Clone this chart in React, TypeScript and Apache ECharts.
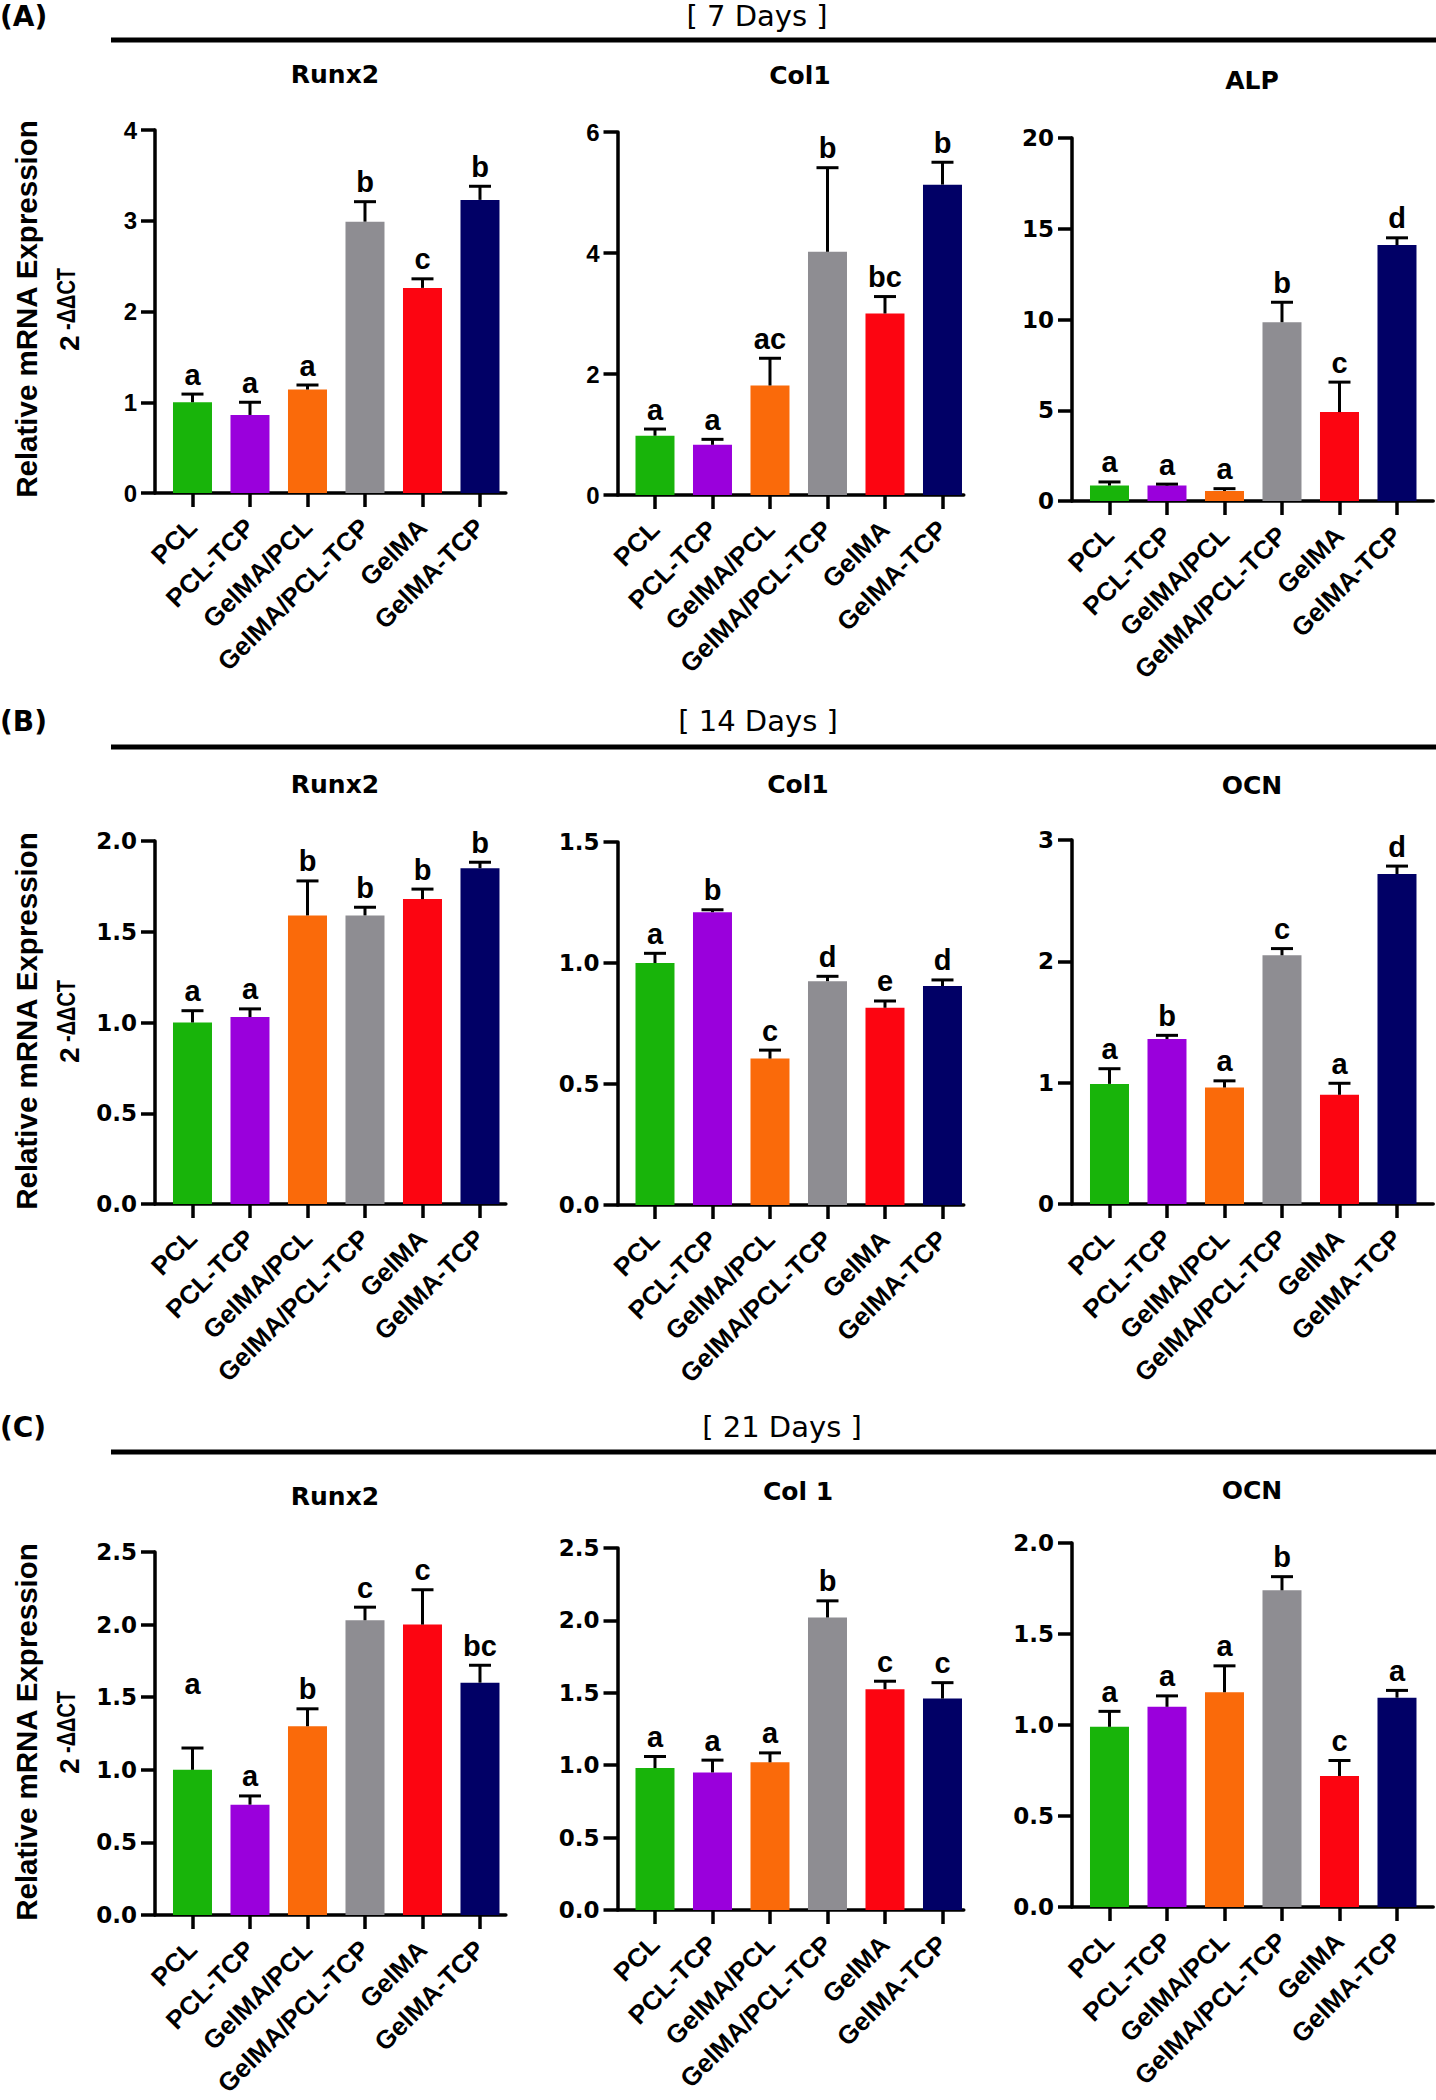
import React, { useEffect, useRef } from 'react';
import * as echarts from 'echarts';

// ---------- data ----------
const categories = ['PCL', 'PCL-TCP', 'GelMA/PCL', 'GelMA/PCL-TCP', 'GelMA', 'GelMA-TCP'];
const barColors = ['#18B40A', '#9A00DC', '#FA6A0A', '#8E8D92', '#FC0511', '#010066'];

const dayHeaders = ['[ 7 Days ]', '[ 14 Days ]', '[ 21 Days ]'];
const panelLetters = ['(A)', '(B)', '(C)'];
const geneTitles = ['Runx2', 'Col1', 'ALP', 'Runx2', 'Col1', 'OCN', 'Runx2', 'Col 1', 'OCN'];

// 7 days
const d7Runx2Mean = [1.0, 0.86, 1.14, 2.99, 2.26, 3.23];
const d7Runx2Sd = [0.09, 0.14, 0.05, 0.22, 0.1, 0.15];
const d7Runx2Sig = ['a', 'a', 'a', 'b', 'c', 'b'];
const d7Col1Mean = [0.98, 0.83, 1.81, 4.02, 3.0, 5.13];
const d7Col1Sd = [0.11, 0.09, 0.45, 1.39, 0.28, 0.37];
const d7Col1Sig = ['a', 'a', 'ac', 'b', 'bc', 'b'];
const d7AlpMean = [0.85, 0.85, 0.55, 9.85, 4.9, 14.1];
const d7AlpSd = [0.2, 0.08, 0.13, 1.1, 1.65, 0.4];
const d7AlpSig = ['a', 'a', 'a', 'b', 'c', 'd'];

// 14 days
const d14Runx2Mean = [1.0, 1.03, 1.59, 1.59, 1.68, 1.85];
const d14Runx2Sd = [0.065, 0.045, 0.19, 0.045, 0.055, 0.033];
const d14Runx2Sig = ['a', 'a', 'b', 'b', 'b', 'b'];
const d14Col1Mean = [1.0, 1.21, 0.605, 0.925, 0.815, 0.905];
const d14Col1Sd = [0.04, 0.01, 0.035, 0.02, 0.028, 0.025];
const d14Col1Sig = ['a', 'b', 'c', 'd', 'e', 'd'];
const d14OcnMean = [0.99, 1.36, 0.96, 2.05, 0.9, 2.72];
const d14OcnSd = [0.125, 0.03, 0.055, 0.055, 0.095, 0.065];
const d14OcnSig = ['a', 'b', 'a', 'c', 'a', 'd'];

// 21 days
const d21Runx2Mean = [1.0, 0.76, 1.3, 2.03, 2.0, 1.6];
const d21Runx2Sd = [0.15, 0.06, 0.12, 0.09, 0.24, 0.12];
const d21Runx2Sig = ['a', 'a', 'b', 'c', 'c', 'bc'];
const d21Runx2SigAt = [1.49, null, null, null, null, null];
const d21Col1Mean = [0.98, 0.95, 1.02, 2.02, 1.525, 1.46];
const d21Col1Sd = [0.08, 0.085, 0.065, 0.115, 0.055, 0.11];
const d21Col1Sig = ['a', 'a', 'a', 'b', 'c', 'c'];
const d21OcnMean = [0.99, 1.1, 1.18, 1.74, 0.72, 1.15];
const d21OcnSd = [0.085, 0.06, 0.145, 0.075, 0.085, 0.04];
const d21OcnSig = ['a', 'a', 'a', 'b', 'c', 'a'];

// y-axis scales: [max, interval, decimals]
const yScales = [
  [4, 1, 0], [6, 2, 0], [20, 5, 0],
  [2, 0.5, 1], [1.5, 0.5, 1], [3, 1, 0],
  [2.5, 0.5, 1], [2.5, 0.5, 1], [2, 0.5, 1],
];

const panelData = [
  [d7Runx2Mean, d7Runx2Sd, d7Runx2Sig, null],
  [d7Col1Mean, d7Col1Sd, d7Col1Sig, null],
  [d7AlpMean, d7AlpSd, d7AlpSig, null],
  [d14Runx2Mean, d14Runx2Sd, d14Runx2Sig, null],
  [d14Col1Mean, d14Col1Sd, d14Col1Sig, null],
  [d14OcnMean, d14OcnSd, d14OcnSig, null],
  [d21Runx2Mean, d21Runx2Sd, d21Runx2Sig, d21Runx2SigAt],
  [d21Col1Mean, d21Col1Sd, d21Col1Sig, null],
  [d21OcnMean, d21OcnSd, d21OcnSig, null],
];

// ---------- layout ----------
const DEJAVU = '"DejaVu Sans", "Noto Sans", sans-serif';
const ARIAL = '"Liberation Sans", Arial, sans-serif';
const colLeft = [155, 617.5, 1072];
const colXMax = [5.45, 5.37, 5.63];
const X_MIN = -0.652;
const BAND = 57.5;
const gridTops = [[130, 132, 138], [841, 842, 840], [1552, 1548, 1543]];
const gridBottoms = [[493, 495, 501], [1204, 1205, 1204], [1915, 1910, 1907]];
const titlePos = [
  [335, 74], [800, 75], [1252, 80],
  [335, 784], [798, 784], [1252, 785],
  [335, 1496], [798, 1491], [1252, 1490],
];
const headerY = [16, 721, 1427];
const headerX = [757, 758, 782];
const ruleY = [40, 747, 1452];
const rowShift = [0, 712, 1423];

function buildOption() {
  const grid: any[] = [];
  const xAxis: any[] = [];
  const yAxis: any[] = [];
  const series: any[] = [];
  const graphic: any[] = [];
  const tickIdx = categories.map((_, i) => i);

  panelData.forEach((pd, k) => {
    const [mean, sd, sig, sigAt] = pd as any;
    const r = Math.floor(k / 3);
    const c = k % 3;
    const [yMax, yInt, dec] = yScales[k];
    const left = colLeft[c];
    const width = (colXMax[c] - X_MIN) * BAND;
    const top = gridTops[r][c];
    const height = gridBottoms[r][c] - top;
    grid.push({ left, top, width, height });
    xAxis.push({
      type: 'value',
      gridIndex: k,
      min: X_MIN,
      max: colXMax[c],
      axisLine: { show: true, onZero: false, lineStyle: { color: '#000', width: 3.5 } },
      axisTick: { show: true, customValues: tickIdx, length: 14, lineStyle: { color: '#000', width: 3.5 } },
      axisLabel: {
        show: true,
        customValues: tickIdx,
        formatter: (v: number) => categories[Math.round(v)] ?? '',
        rotate: 45,
        margin: 30,
        color: '#000',
        fontFamily: ARIAL,
        fontWeight: 'bold',
        fontSize: 26,
      },
      splitLine: { show: false },
    });
    const narrow = k < 2;
    yAxis.push({
      type: 'value',
      gridIndex: k,
      min: 0,
      max: yMax,
      interval: yInt,
      axisLine: { show: true, onZero: false, lineStyle: { color: '#000', width: 3.5 } },
      axisTick: { show: true, length: 14, lineStyle: { color: '#000', width: 3.5 } },
      axisLabel: {
        margin: 18,
        color: '#000',
        fontFamily: narrow ? ARIAL : DEJAVU,
        fontWeight: 'bold',
        fontSize: narrow ? 24 : 23,
        formatter: (v: number) => v.toFixed(dec),
      },
      splitLine: { show: false },
    });
    series.push({
      type: 'bar',
      xAxisIndex: k,
      yAxisIndex: k,
      barWidth: 39,
      silent: true,
      data: mean.map((v: number, i: number) => ({ value: [i, v], itemStyle: { color: barColors[i] } })),
    });
    series.push({
      type: 'custom',
      xAxisIndex: k,
      yAxisIndex: k,
      z: 5,
      clip: false,
      silent: true,
      data: mean.map((v: number, i: number) => [i, v, v + sd[i]]),
      renderItem: (params: any, api: any) => {
        const i = params.dataIndex;
        const x = api.value(0);
        const pTop = api.coord([x, api.value(1)]);
        const pErr = api.coord([x, api.value(2)]);
        const ly = sigAt && sigAt[i] != null ? api.coord([x, sigAt[i]])[1] : pErr[1] - 5;
        return {
          type: 'group',
          children: [
            { type: 'line', shape: { x1: pTop[0], y1: pTop[1], x2: pTop[0], y2: pErr[1] }, style: { stroke: '#000', lineWidth: 3 } },
            { type: 'line', shape: { x1: pTop[0] - 11, y1: pErr[1], x2: pTop[0] + 11, y2: pErr[1] }, style: { stroke: '#000', lineWidth: 3 } },
            {
              type: 'text',
              x: pTop[0],
              y: ly,
              style: { text: sig[i], fill: '#000', fontFamily: ARIAL, fontWeight: 'bold', fontSize: 29, align: 'center', verticalAlign: 'bottom' },
            },
          ],
        };
      },
    });
    graphic.push({
      type: 'text',
      x: titlePos[k][0],
      y: titlePos[k][1],
      style: { text: geneTitles[k], fill: '#000', fontFamily: DEJAVU, fontWeight: 'bold', fontSize: 25, align: 'center', verticalAlign: 'middle' },
    });
  });

  for (let r = 0; r < 3; r++) {
    graphic.push({
      type: 'text', x: 0, y: headerY[r],
      style: { text: panelLetters[r], fill: '#000', fontFamily: DEJAVU, fontWeight: 'bold', fontSize: 28, align: 'left', verticalAlign: 'middle' },
    });
    graphic.push({
      type: 'text', x: headerX[r], y: headerY[r],
      style: { text: dayHeaders[r], fill: '#000', fontFamily: DEJAVU, fontWeight: 'normal', fontSize: 29, align: 'center', verticalAlign: 'middle' },
    });
    graphic.push({
      type: 'line', shape: { x1: 111, y1: ruleY[r], x2: 1436, y2: ruleY[r] },
      style: { stroke: '#000', lineWidth: 5 },
    });
    const s = rowShift[r];
    graphic.push({
      type: 'text', x: 26, y: 309 + s, rotation: Math.PI / 2,
      style: { text: 'Relative mRNA Expression', fill: '#000', fontFamily: ARIAL, fontWeight: 'bold', fontSize: 29.5, align: 'center', verticalAlign: 'middle' },
    });
    graphic.push({
      type: 'text', x: 69, y: 351 + s, rotation: Math.PI / 2,
      style: { text: '2', fill: '#000', fontFamily: ARIAL, fontWeight: 'bold', fontSize: 28, align: 'left', verticalAlign: 'middle' },
    });
    graphic.push({
      type: 'text', x: 66, y: 330 + s, rotation: Math.PI / 2, scaleY: 1.3,
      style: { text: '-ΔΔCT', fill: '#000', fontFamily: ARIAL, fontWeight: 'bold', fontSize: 20, align: 'left', verticalAlign: 'middle' },
    });
  }

  return {
    animation: false,
    backgroundColor: '#fff',
    grid,
    xAxis,
    yAxis,
    series,
    graphic,
  };
}

export default function App() {
  const ref = useRef<HTMLDivElement>(null);
  useEffect(() => {
    if (!ref.current) return;
    const chart = echarts.init(ref.current, null, { renderer: 'svg' });
    chart.setOption(buildOption());
    return () => chart.dispose();
  }, []);
  return (
    <div
      ref={ref}
      style={{ position: 'absolute', left: 0, top: 0, width: 1436, height: 2100, background: '#fff' }}
    />
  );
}
